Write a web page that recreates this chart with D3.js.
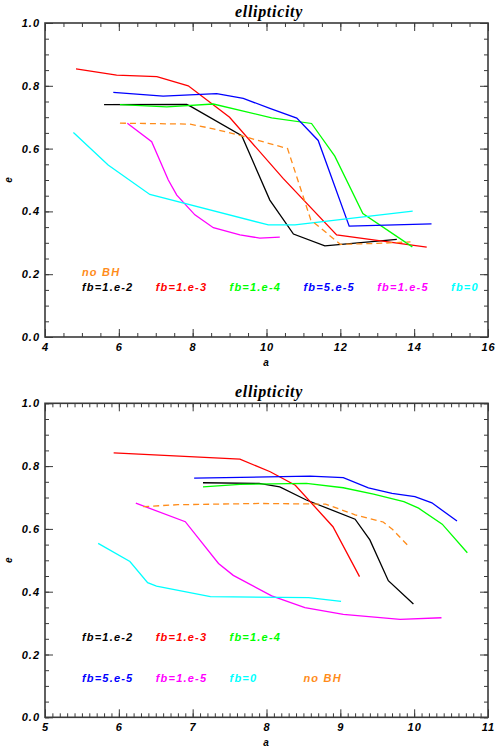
<!DOCTYPE html>
<html>
<head>
<meta charset="utf-8">
<script src="https://cdn.jsdelivr.net/npm/d3@7"></script>
<style>
  body { margin: 0; background: #fff; }
  svg { display: block; }
  .tick-label, .legend { font-family: "Liberation Sans", Arial, sans-serif; font-weight: bold; font-style: italic; }
  .title { font-family: "Liberation Serif", "DejaVu Serif", serif; font-weight: bold; font-style: italic; }
</style>
</head>
<body>
<svg id="chart" width="496" height="751"></svg>
<script>
// series names and colours (same order in both panels)
var seriesNames = ["fb=1.e-2", "fb=1.e-3", "fb=1.e-4", "fb=5.e-5", "fb=1.e-5", "fb=0", "no BH"];
var seriesColors = ["#000000", "#ff0000", "#00ff00", "#0000ff", "#ff00ff", "#00ffff", "#ff8c1a"];

// top panel: [a, e] pairs
var topBlack   = [[5.60,0.740],[7.84,0.741],[7.97,0.733],[9.33,0.641],[10.09,0.436],[10.73,0.328],[11.58,0.290],[13.53,0.311]];
var topRed     = [[4.84,0.854],[5.94,0.834],[7.03,0.829],[7.88,0.800],[9.00,0.700],[10.45,0.505],[11.90,0.325],[14.34,0.286]];
var topGreen   = [[6.03,0.740],[7.30,0.733],[8.56,0.742],[10.14,0.698],[11.22,0.680],[11.85,0.576],[12.61,0.393],[13.95,0.287]];
var topBlue    = [[5.85,0.779],[7.20,0.767],[8.65,0.775],[9.37,0.760],[10.09,0.728],[10.82,0.697],[11.40,0.626],[12.24,0.353],[14.47,0.360]];
var topMagenta = [[6.23,0.681],[6.89,0.622],[7.34,0.500],[7.57,0.452],[8.06,0.389],[8.56,0.348],[9.28,0.325],[9.82,0.315],[10.36,0.318]];
var topCyan    = [[4.77,0.651],[5.71,0.548],[6.84,0.454],[10.05,0.357],[10.77,0.357],[13.96,0.401]];
var topNoBH    = [[6.03,0.681],[7.93,0.678],[8.56,0.663],[9.35,0.640],[10.57,0.600],[11.20,0.373],[12.00,0.295],[13.00,0.298],[13.90,0.303]];

// bottom panel: [a, e] pairs
var botBlack   = [[7.14,0.747],[7.90,0.745],[8.18,0.734],[8.54,0.692],[9.20,0.631],[9.40,0.565],[9.65,0.435],[9.99,0.361]];
var botRed     = [[5.93,0.842],[7.64,0.822],[8.05,0.782],[8.39,0.739],[8.90,0.607],[9.26,0.448]];
var botGreen   = [[7.14,0.734],[7.64,0.742],[8.54,0.745],[9.04,0.731],[9.45,0.711],[9.86,0.687],[10.06,0.666],[10.38,0.615],[10.72,0.524]];
var botBlue    = [[7.02,0.762],[8.59,0.768],[9.04,0.763],[9.38,0.731],[9.70,0.713],[10.01,0.703],[10.24,0.683],[10.58,0.625]];
var botMagenta = [[6.23,0.682],[6.90,0.623],[7.35,0.490],[7.55,0.452],[8.07,0.387],[8.52,0.349],[9.04,0.328],[9.81,0.312],[10.37,0.317]];
var botCyan    = [[5.72,0.554],[6.15,0.496],[6.39,0.429],[6.51,0.418],[7.24,0.384],[8.57,0.381],[9.01,0.369]];
var botNoBH    = [[6.33,0.671],[6.80,0.677],[7.90,0.681],[8.80,0.679],[9.20,0.645],[9.58,0.622],[9.70,0.600],[9.94,0.541]];

// axis ticks
var topXTicks = [4, 6, 8, 10, 12, 14, 16];
var botXTicks = [5, 6, 7, 8, 9, 10, 11];
var yTicks = [0.0, 0.2, 0.4, 0.6, 0.8, 1.0];

// legend anchors in data units [a, e], same order as seriesNames
var topLegend = [[5,0.147],[7,0.147],[9,0.147],[11,0.147],[13,0.147],[15,0.147],[5,0.195]];
var botLegend = [[5.5,0.243],[6.5,0.243],[7.5,0.243],[5.5,0.113],[6.5,0.113],[7.5,0.113],[8.5,0.113]];

var svg = d3.select("#chart");

function drawPanel(opts) {
  var x = d3.scaleLinear().domain(opts.xDomain).range([45, 488]);
  var y = d3.scaleLinear().domain([0, 1]).range([opts.bottom, opts.top]);
  var g = svg.append("g");
  var frame = "#3a3a3a";

  // ticks on all four sides, pointing inward
  var xBottom = d3.axisBottom(x).tickValues(opts.xTicks).tickFormat(d3.format("d")).tickSize(-8).tickPadding(6);
  var xBottomMinor = d3.axisBottom(x).ticks(opts.xMinor).tickFormat("").tickSize(-4);
  var xTop = d3.axisTop(x).tickValues(opts.xTicks).tickFormat("").tickSize(-8);
  var xTopMinor = d3.axisTop(x).ticks(opts.xMinor).tickFormat("").tickSize(-4);
  var yLeft = d3.axisLeft(y).tickValues(yTicks).tickFormat(d3.format(".1f")).tickSize(-8).tickPadding(5);
  var yLeftMinor = d3.axisLeft(y).ticks(20).tickFormat("").tickSize(-4);
  var yRight = d3.axisRight(y).tickValues(yTicks).tickFormat("").tickSize(-8);
  var yRightMinor = d3.axisRight(y).ticks(20).tickFormat("").tickSize(-4);

  var axes = [
    [xBottomMinor, "translate(0," + opts.bottom + ")"],
    [xTopMinor, "translate(0," + opts.top + ")"],
    [yLeftMinor, "translate(45,0)"],
    [yRightMinor, "translate(488,0)"],
    [xBottom, "translate(0," + opts.bottom + ")"],
    [xTop, "translate(0," + opts.top + ")"],
    [yLeft, "translate(45,0)"],
    [yRight, "translate(488,0)"]
  ];
  axes.forEach(function(a) {
    var ax = g.append("g").attr("transform", a[1]).call(a[0]);
    ax.select(".domain").remove();
    ax.selectAll("line").attr("stroke", frame).attr("stroke-width", 1);
    ax.selectAll("text").attr("class", "tick-label").attr("fill", "#000")
      .style("font-size", "11px").style("letter-spacing", "1px");
  });

  g.append("rect")
    .attr("x", 45).attr("y", opts.top)
    .attr("width", 443).attr("height", opts.bottom - opts.top)
    .attr("fill", "none").attr("stroke", frame).attr("stroke-width", 1.6);

  var line = d3.line()
    .x(function(d) { return x(d[0]); })
    .y(function(d) { return y(d[1]); });

  g.selectAll("path.series")
    .data(opts.series)
    .enter()
    .append("path")
    .attr("class", "series")
    .attr("d", line)
    .attr("fill", "none")
    .attr("stroke", function(d, i) { return seriesColors[i]; })
    .attr("stroke-width", 1.3)
    .attr("stroke-dasharray", function(d, i) { return i === 6 ? "6,4" : null; });

  g.selectAll("text.legend")
    .data(opts.legend)
    .enter()
    .append("text")
    .attr("class", "legend")
    .attr("x", function(d) { return x(d[0]); })
    .attr("y", function(d) { return y(d[1]); })
    .attr("fill", function(d, i) { return seriesColors[i]; })
    .style("font-size", "11px")
    .style("letter-spacing", "1.2px")
    .text(function(d, i) { return seriesNames[i]; });

  g.append("text")
    .attr("class", "title")
    .attr("x", 269).attr("y", opts.top - 6)
    .attr("text-anchor", "middle")
    .style("font-size", "16px")
    .style("letter-spacing", "0.7px")
    .text("ellipticity");

  g.append("text")
    .attr("class", "tick-label")
    .attr("x", 266).attr("y", opts.bottom + 29)
    .attr("text-anchor", "middle")
    .style("font-size", "10px")
    .text("a");

  g.append("text")
    .attr("class", "tick-label")
    .attr("transform", "translate(12," + ((opts.top + opts.bottom) / 2) + ") rotate(-90)")
    .attr("text-anchor", "middle")
    .style("font-size", "10px")
    .text("e");
}

drawPanel({
  xDomain: [4, 16], xTicks: topXTicks, xMinor: 24,
  top: 23, bottom: 337,
  series: [topBlack, topRed, topGreen, topBlue, topMagenta, topCyan, topNoBH],
  legend: topLegend
});

drawPanel({
  xDomain: [5, 11], xTicks: botXTicks, xMinor: 60,
  top: 403.3, bottom: 717.3,
  series: [botBlack, botRed, botGreen, botBlue, botMagenta, botCyan, botNoBH],
  legend: botLegend
});
</script>
</body>
</html>
